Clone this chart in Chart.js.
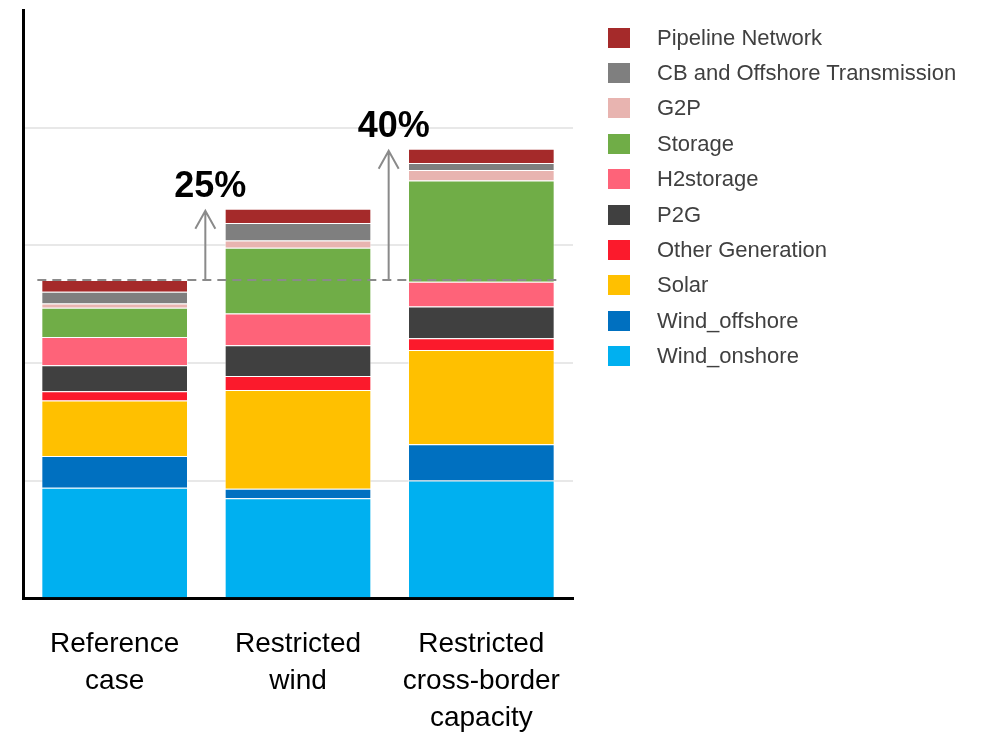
<!DOCTYPE html>
<html>
<head>
<meta charset="utf-8">
<script src="https://cdn.jsdelivr.net/npm/chart.js@4/dist/chart.umd.min.js"></script>
<style>
  body { margin: 0; background: #fff; }
  #wrap { position: relative; width: 988px; height: 735px; }
  #legend {
    position: absolute; left: 608px; top: 20px;
    margin: 0; padding: 0; list-style: none;
    font-family: 'Liberation Sans', Arial, sans-serif; font-size: 22px; color: #404040;
  }
  #legend li { display: flex; align-items: center; height: 35.4px; white-space: nowrap; }
  #legend .box { width: 22px; height: 20px; margin-right: 27px; flex: none; }
</style>
</head>
<body>
<div id="wrap">
  <canvas id="myChart"></canvas>
  <ul id="legend"></ul>
</div>
<script>
// scenarios on the x axis
const scenarios = [['Reference', 'case'], ['Restricted', 'wind'], ['Restricted', 'cross-border', 'capacity']];

// cost components, bottom of the stack first
const windOnshore = [0.94, 0.85, 1.00];
const windOffshore = [0.27, 0.08, 0.31];
const solar = [0.47, 0.84, 0.80];
const otherGeneration = [0.08, 0.12, 0.10];
const p2g = [0.22, 0.26, 0.27];
const h2storage = [0.24, 0.27, 0.21];
const storage = [0.25, 0.56, 0.86];
const g2p = [0.035, 0.06, 0.09];
const cbTransmission = [0.10, 0.15, 0.06];
const pipelineNetwork = [0.10, 0.12, 0.12];

// increase against the reference case
const increaseLabels = ['25%', '40%'];

const yTicks = [0, 1, 2, 3, 4, 5];

function series(label, data, color) {
    return {
        label: label,
        data: data,
        backgroundColor: color,
        borderColor: 'rgba(255, 255, 255, 0.55)',
        borderWidth: 1
    };
}

// 參考線 + 箭頭 + 百分比
const increaseArrows = {
    id: 'increaseArrows',
    afterDatasetsDraw(chart) {
        const ctx = chart.ctx;
        const xs = chart.scales.x;
        const ys = chart.scales.y;
        const n = chart.data.labels.length;
        const totals = [];
        for (let i = 0; i < n; i++) {
            totals.push(chart.data.datasets.reduce((s, d) => s + d.data[i], 0));
        }
        const half = chart.getDatasetMeta(0).data[0].width / 2;
        const yRef = ys.getPixelForValue(totals[0]);

        ctx.save();
        ctx.strokeStyle = '#8a8a8a';
        ctx.lineWidth = 2;
        ctx.setLineDash([9, 6]);
        ctx.beginPath();
        ctx.moveTo(xs.getPixelForValue(0) - half - 4, yRef);
        ctx.lineTo(xs.getPixelForValue(n - 1) + half + 4, yRef);
        ctx.stroke();
        ctx.setLineDash([]);

        for (let i = 1; i < n; i++) {
            const ax = (xs.getPixelForValue(i - 1) + xs.getPixelForValue(i)) / 2 - 1;
            const tip = ys.getPixelForValue(totals[i]) + 2;
            ctx.beginPath();
            ctx.moveTo(ax, yRef);
            ctx.lineTo(ax, tip);
            ctx.moveTo(ax - 10, tip + 18);
            ctx.lineTo(ax, tip);
            ctx.lineTo(ax + 10, tip + 18);
            ctx.stroke();

            ctx.fillStyle = '#000';
            ctx.font = 'bold 36px "Liberation Sans", Arial, sans-serif';
            ctx.textAlign = 'center';
            ctx.textBaseline = 'alphabetic';
            ctx.fillText(increaseLabels[i - 1], ax + 5, tip - 14);
        }
        ctx.restore();
    }
};

// legend as a list next to the canvas, top item = top of the stack
const htmlLegend = {
    id: 'htmlLegend',
    afterUpdate(chart) {
        const ul = document.getElementById('legend');
        ul.innerHTML = '';
        const items = chart.options.plugins.legend.labels.generateLabels(chart).reverse();
        items.forEach(item => {
            const li = document.createElement('li');
            const box = document.createElement('span');
            box.className = 'box';
            box.style.background = item.fillStyle;
            li.appendChild(box);
            li.appendChild(document.createTextNode(item.text));
            ul.appendChild(li);
        });
    }
};

var ctx1 = document.getElementById('myChart');
var myChart = new Chart(ctx1, {
    type: 'bar',
    data: {
        labels: scenarios,
        datasets: [
            series('Wind_onshore', windOnshore, '#00b0f0'),
            series('Wind_offshore', windOffshore, '#0070c0'),
            series('Solar', solar, '#ffc000'),
            series('Other Generation', otherGeneration, '#fb1a2c'),
            series('P2G', p2g, '#404040'),
            series('H2storage', h2storage, '#fe6379'),
            series('Storage', storage, '#70ad47'),
            series('G2P', g2p, '#e8b4b0'),
            series('CB and Offshore Transmission', cbTransmission, '#7f7f7f'),
            series('Pipeline Network', pipelineNetwork, '#a52a2a')
        ]
    },
    options: {
        responsive: true,
        maintainAspectRatio: false,
        animation: false,
        categoryPercentage: 1,
        barPercentage: 0.8,
        layout: { padding: { left: 23, right: 415, top: 10, bottom: -29 } },
        plugins: {
            legend: { display: false },
            tooltip: { enabled: false }
        },
        scales: {
            x: {
                stacked: true,
                grid: { display: false, drawTicks: false },
                border: { color: '#000', width: 3 },
                ticks: {
                    color: '#000',
                    padding: 27,
                    maxRotation: 0,
                    autoSkip: false,
                    font: { family: '"Liberation Sans", Arial, sans-serif', size: 28, lineHeight: 1.33 }
                }
            },
            y: {
                stacked: true,
                min: yTicks[0],
                max: yTicks[yTicks.length - 1],
                afterBuildTicks: axis => { axis.ticks = yTicks.map(v => ({ value: v })); },
                grid: {
                    drawTicks: false,
                    lineWidth: 2,
                    color: c => (c.tick && c.tick.value === 5) ? 'rgba(0,0,0,0)' : '#e8e8e8'
                },
                border: { color: '#000', width: 3 },
                ticks: { display: false }
            }
        }
    },
    plugins: [increaseArrows, htmlLegend]
});
</script>
</body>
</html>
